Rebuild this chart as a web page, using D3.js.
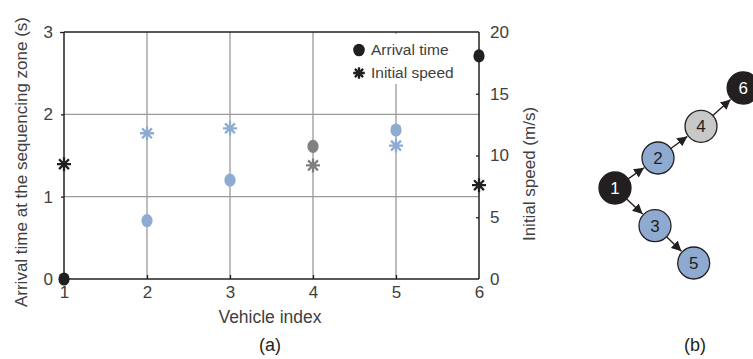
<!DOCTYPE html>
<html><head><meta charset="utf-8">
<script src="https://cdn.jsdelivr.net/npm/d3@7"></script>
<style>body{margin:0;background:#fff}svg{display:block}</style>
</head><body>
<svg id="c" width="753" height="359"></svg>
<script>
const vehicles = [1, 2, 3, 4, 5, 6];
const arrivalTime = [0, 0.71, 1.2, 1.61, 1.81, 2.71];
const initialSpeed = [9.3, 11.8, 12.2, 9.2, 10.8, 7.6];
const markerColor = ["#231f20", "#8eacd2", "#8eacd2", "#808080", "#8eacd2", "#231f20"];
const leftTicks = [0, 1, 2, 3];
const rightTicks = [0, 5, 10, 15, 20];
const legendLabels = ["Arrival time", "Initial speed"];
// graph (b)
const nodeIds = [1, 2, 3, 4, 5, 6];
const nodeFill = ["#231f20", "#8eaad0", "#8eaad0", "#c8c8c8", "#8eaad0", "#231f20"];
const nodeGridX = [0, 1, 0.93, 2, 1.83, 2.98];
const nodeGridY = [0, 0.9, -1.13, 1.85, -2.25, 3.0];
const edges = [[1, 2], [2, 4], [4, 6], [1, 3], [3, 5]];

const svg = d3.select("#c");
const txt = "#404040";
const font = "Arial, 'Liberation Sans', sans-serif";

const x = d3.scaleLinear().domain([1, 6]).range([64, 479]);
const yL = d3.scaleLinear().domain([0, 3]).range([279, 32]);
const yR = d3.scaleLinear().domain([0, 20]).range([279, 32]);

// grid
svg.append("g").selectAll("line").data(vehicles.slice(1, 5)).join("line")
  .attr("x1", d => x(d)).attr("x2", d => x(d)).attr("y1", 32).attr("y2", 279)
  .attr("stroke", "#9a9a9a").attr("stroke-width", 1.3);
svg.append("g").selectAll("line").data([1, 2]).join("line")
  .attr("x1", 64).attr("x2", 479).attr("y1", d => yL(d)).attr("y2", d => yL(d))
  .attr("stroke", "#9a9a9a").attr("stroke-width", 1.3);

// legend background
svg.append("rect").attr("x", 340).attr("y", 34).attr("width", 137).attr("height", 50).attr("fill", "#fff");

// axes
const axL = svg.append("g").attr("transform", "translate(64,0)")
  .call(d3.axisLeft(yL).tickValues(leftTicks).tickFormat(d3.format("d")).tickSize(3).tickPadding(8));
const axR = svg.append("g").attr("transform", "translate(479,0)")
  .call(d3.axisRight(yR).tickValues(rightTicks).tickSize(-3).tickPadding(11));
const axB = svg.append("g").attr("transform", "translate(0,279)")
  .call(d3.axisBottom(x).tickValues(vehicles).tickFormat(d3.format("d")).tickSize(-4).tickPadding(7));
[axL, axR, axB].forEach(a => {
  a.selectAll(".domain").attr("stroke", "#231f20").attr("stroke-width", 1.5);
  a.selectAll(".tick line").attr("stroke", "#231f20").attr("stroke-width", 1.3);
  a.selectAll("text").attr("font-family", font).attr("font-size", 17).attr("fill", txt);
});
axL.select(".domain").attr("d", "M0,279V32");
axR.select(".domain").attr("d", "M0,279V32");
axB.select(".domain").attr("d", "M64,0H479");
axR.selectAll(".tick").filter(d => d === 0 || d === 20).select("line").remove();
axL.selectAll(".tick").filter(d => d === 0 || d === 3).select("line").attr("x2", -4);
axB.selectAll(".tick").filter(d => d === 1 || d === 6).select("line").remove();
axB.selectAll(".tick text").attr("dy", "0.72em");
svg.append("line").attr("x1", 64).attr("x2", 479).attr("y1", 32).attr("y2", 32)
  .attr("stroke", "#231f20").attr("stroke-width", 1.5);

// star path
function star(cx, cy, r) {
  let p = "";
  for (let i = 0; i < 4; i++) {
    const a = i * Math.PI / 4;
    const dx = r * Math.cos(a), dy = r * Math.sin(a);
    p += `M${cx - dx},${cy - dy}L${cx + dx},${cy + dy}`;
  }
  return p;
}

// series
svg.append("g").selectAll("path").data(vehicles).join("path")
  .attr("d", (d, i) => star(x(d), yR(initialSpeed[i]), 7))
  .attr("stroke", (d, i) => markerColor[i]).attr("stroke-width", 2.3).attr("fill", "none");
svg.append("g").selectAll("ellipse").data(vehicles).join("ellipse")
  .attr("cx", d => x(d)).attr("cy", (d, i) => yL(arrivalTime[i]))
  .attr("rx", 5.6).attr("ry", 6.6).attr("fill", (d, i) => markerColor[i]);

// legend
svg.append("ellipse").attr("cx", 359).attr("cy", 50).attr("rx", 5.8).attr("ry", 6.3).attr("fill", "#231f20");
svg.append("path").attr("d", star(359, 73, 5.8)).attr("stroke", "#231f20").attr("stroke-width", 2.3);
svg.selectAll(".leg").data(legendLabels).join("text").attr("class", "leg")
  .attr("x", 371).attr("y", (d, i) => 50 + i * 23).attr("dy", "0.35em")
  .attr("font-family", font).attr("font-size", 15.5).attr("fill", txt).text(d => d);

// axis titles
svg.append("text").attr("transform", "translate(27,162) rotate(-90)").attr("text-anchor", "middle")
  .attr("font-family", font).attr("font-size", 17).attr("fill", txt)
  .text("Arrival time at the sequencing zone (s)");
svg.append("text").attr("transform", "translate(535,174) rotate(-90)").attr("text-anchor", "middle")
  .attr("font-family", font).attr("font-size", 17).attr("fill", txt)
  .text("Initial speed (m/s)");
svg.append("text").attr("x", 270).attr("y", 323).attr("text-anchor", "middle")
  .attr("font-family", font).attr("font-size", 17.5).attr("fill", txt).text("Vehicle index");
svg.append("text").attr("x", 270).attr("y", 351).attr("text-anchor", "middle")
  .attr("font-family", font).attr("font-size", 18).attr("fill", "#231f20").text("(a)");

// graph (b)
const gx = d3.scaleLinear().domain([0, 3]).range([615, 744]);
const gy = d3.scaleLinear().domain([0, 3]).range([188, 88]);
const R = 16;
svg.append("defs").append("marker").attr("id", "arr").attr("viewBox", "0 0 10 10")
  .attr("refX", 10).attr("refY", 5).attr("markerWidth", 10).attr("markerHeight", 10)
  .attr("markerUnits", "userSpaceOnUse").attr("orient", "auto")
  .append("path").attr("d", "M0,0L10,5L0,10Z").attr("fill", "#231f20");
const pos = id => { const i = nodeIds.indexOf(id); return [gx(nodeGridX[i]), gy(nodeGridY[i])]; };
svg.append("g").selectAll("line").data(edges).join("line")
  .each(function(e) {
    const [x1, y1] = pos(e[0]), [x2, y2] = pos(e[1]);
    const L = Math.hypot(x2 - x1, y2 - y1), ux = (x2 - x1) / L, uy = (y2 - y1) / L;
    d3.select(this).attr("x1", x1 + ux * R).attr("y1", y1 + uy * R)
      .attr("x2", x2 - ux * (R + 1)).attr("y2", y2 - uy * (R + 1));
  })
  .attr("stroke", "#231f20").attr("stroke-width", 1.4).attr("marker-end", "url(#arr)");
const nodes = svg.append("g").selectAll("g").data(nodeIds).join("g")
  .attr("transform", d => `translate(${pos(d)})`);
nodes.append("circle").attr("r", R).attr("fill", (d, i) => nodeFill[i])
  .attr("stroke", "#231f20").attr("stroke-width", 1.3);
nodes.append("text").attr("text-anchor", "middle").attr("dy", "0.36em")
  .attr("font-family", font).attr("font-size", 17)
  .attr("fill", (d, i) => (d === 1 || d === 6) ? "#fff" : "#231f20").text(d => d);
svg.append("text").attr("x", 695).attr("y", 351).attr("text-anchor", "middle")
  .attr("font-family", font).attr("font-size", 18).attr("fill", "#231f20").text("(b)");
</script>
</body></html>
